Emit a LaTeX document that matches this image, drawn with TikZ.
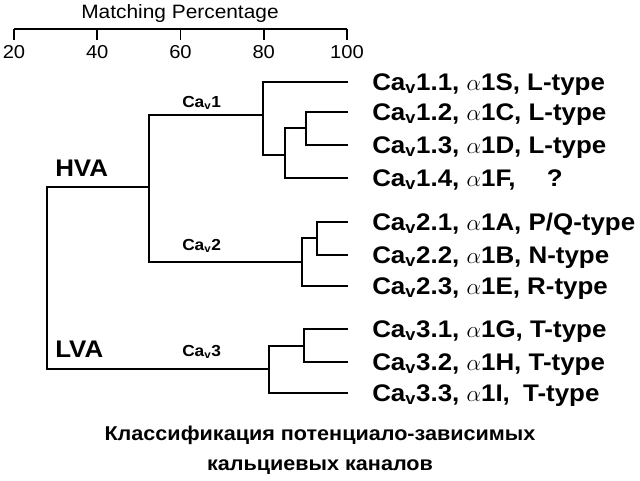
\documentclass[tikz,border=0pt]{standalone}
\usepackage{fontspec}
\setmainfont{Liberation Sans}[FakeStretch=1.08]
\usepackage{tikz}
\usetikzlibrary{calc}

\newcommand{\cav}{Ca\textsubscript{v}}

\begin{document}
\begin{tikzpicture}[x=0.75pt,y=-0.75pt,
    tree/.style={line width=1.3pt,line join=miter},
    leaf/.style={anchor=base west,inner sep=0pt,font=\bfseries\fontsize{18}{20}\selectfont},
    clade/.style={anchor=base west,inner sep=0pt,font=\bfseries\fontsize{12}{14}\selectfont},
    group/.style={anchor=base west,inner sep=0pt,font=\bfseries\fontsize{18}{20}\selectfont},
    ticklbl/.style={anchor=base,inner sep=0pt,font=\fontsize{14}{16}\selectfont}]
    \useasboundingbox (0,0) rectangle (640,480);

    % scala in alto
    \coordinate (ax20) at (14,29);
    \coordinate (ax100) at (347,29);
    \draw[line width=1.2pt] (ax20) -- (ax100);
    \foreach \p [count=\i from 0] in {20,40,60,80,100} {
        \coordinate (t\p) at ($(ax20)!\i/4!(ax100)$);
        \draw[line width=1.2pt] (t\p) -- ++(0,11);
        \node[ticklbl] (n\p) at ($(t\p)+(0,29)$) {\p};
    }
    \node[ticklbl,font=\fontsize{14.5}{16}\selectfont] (titolo) at (180,18) {Matching Percentage};

    % estremi delle foglie
    \coordinate (e11) at (348,82);
    \coordinate (e12) at (348,112);
    \coordinate (e13) at (348,145);
    \coordinate (e14) at (348,178);
    \coordinate (e21) at (348,222);
    \coordinate (e22) at (348,255);
    \coordinate (e23) at (348,286);
    \coordinate (e31) at (348,329);
    \coordinate (e32) at (348,362);
    \coordinate (e33) at (348,393);

    % nodi interni
    \coordinate (c123) at (306,128);
    \coordinate (c1234) at (285,155);
    \coordinate (cav1) at (263,115);
    \coordinate (c212) at (317,238);
    \coordinate (cav2) at (302,262);
    \coordinate (c312) at (304,346);
    \coordinate (cav3) at (269,369);
    \coordinate (hva) at (149,187);
    \coordinate (root) at (47,278);

    % famiglia 1
    \draw[tree] (e12) -| (c123) |- (e13);
    \draw[tree] (c123) -| (c1234) |- (e14);
    \draw[tree] (c1234) -| (cav1) |- (e11);
    % famiglia 2
    \draw[tree] (e21) -| (c212) |- (e22);
    \draw[tree] (c212) -| (cav2) |- (e23);
    % famiglia 3
    \draw[tree] (e31) -| (c312) |- (e32);
    \draw[tree] (c312) -| (cav3) |- (e33);
    % rami principali
    \draw[tree] (cav1) -| (hva) |- (cav2);
    \draw[tree] (hva) -| (root) |- (cav3);

    % etichette dei rami
    \node[group] (lhva) at (55,176) {HVA};
    \node[group] (llva) at (55,357) {LVA};
    \node[clade] (l1) at (182,107) {\cav1};
    \node[clade] (l2) at (182,250) {\cav2};
    \node[clade] (l3) at (182,356) {\cav3};

    % foglie
    \node[leaf] (f11) at ($(e11)+(24,8.5)$) {\cav1.1, $\alpha$1S, L-type};
    \node[leaf] (f12) at ($(e12)+(24,8.5)$) {\cav1.2, $\alpha$1C, L-type};
    \node[leaf] (f13) at ($(e13)+(24,8.5)$) {\cav1.3, $\alpha$1D, L-type};
    \node[leaf] (f14) at ($(e14)+(24,8.5)$) {\cav1.4, $\alpha$1F,\hspace{1.3em}?};
    \node[leaf] (f21) at ($(e21)+(24,8.5)$) {\cav2.1, $\alpha$1A, P/Q-type};
    \node[leaf] (f22) at ($(e22)+(24,8.5)$) {\cav2.2, $\alpha$1B, N-type};
    \node[leaf] (f23) at ($(e23)+(24,8.5)$) {\cav2.3, $\alpha$1E, R-type};
    \node[leaf] (f31) at ($(e31)+(24,8.5)$) {\cav3.1, $\alpha$1G, T-type};
    \node[leaf] (f32) at ($(e32)+(24,8.5)$) {\cav3.2, $\alpha$1H, T-type};
    \node[leaf] (f33) at ($(e33)+(24,8.5)$) {\cav3.3, $\alpha$1I,\hspace{0.55em}T-type};

    % didascalia
    \node[anchor=base,inner sep=0pt,font=\bfseries\fontsize{15}{17}\selectfont] (cap1) at (320,440) {Классификация потенциало-зависимых};
    \node[anchor=base,inner sep=0pt,font=\bfseries\fontsize{15}{17}\selectfont] (cap2) at (320,470) {кальциевых каналов};
\end{tikzpicture}
\end{document}
